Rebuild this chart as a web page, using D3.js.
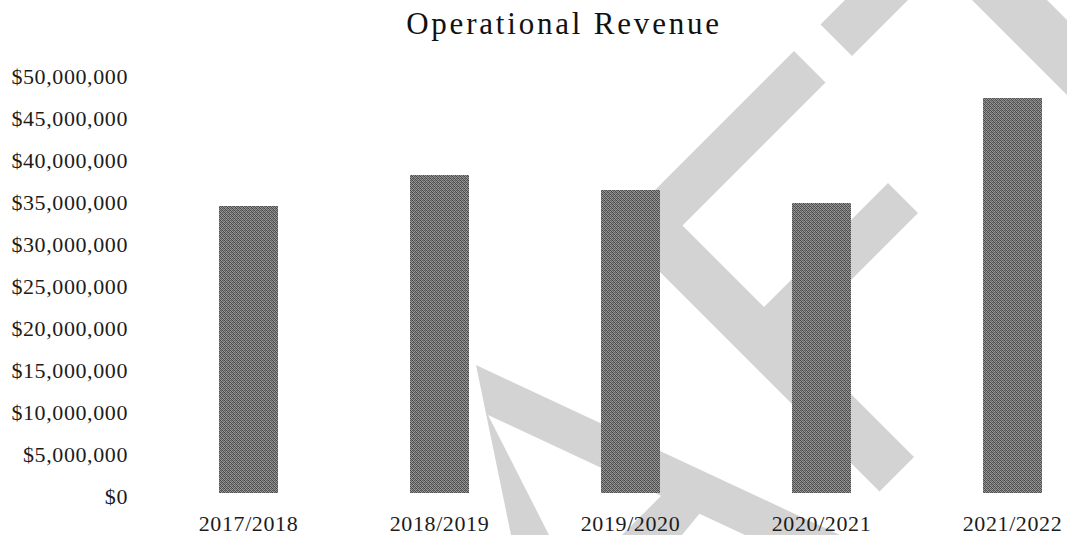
<!DOCTYPE html>
<html>
<head>
<meta charset="utf-8">
<title>Operational Revenue</title>
<script src="https://cdn.jsdelivr.net/npm/d3@7"></script>
<style>
body { margin: 0; background: #fff; }
svg { display: block; }
.axis text { font-family: "Liberation Serif", "Times New Roman", serif; font-size: 22px; letter-spacing: 0.6px; fill: #1c1c1c; }
.axis path, .axis line { display: none; }
.title { font-family: "Liberation Serif", "Times New Roman", serif; font-size: 31px; letter-spacing: 2.8px; fill: #111; }
</style>
</head>
<body>
<svg width="1067" height="535"></svg>
<script>
// chart values
var categories = ["2017/2018", "2018/2019", "2019/2020", "2020/2021", "2021/2022"];
var revenue = [34200000, 37900000, 36100000, 34500000, 47000000];
var yTicks = [0, 5000000, 10000000, 15000000, 20000000, 25000000, 30000000, 35000000, 40000000, 45000000, 50000000];

var svg = d3.select("svg");

// light grey stamp that sits behind the chart in the scan
var stamp = [
  [[794,51],[825.5,82.5],[682.5,225.5],[914,457],[879.5,491.5],[616.5,228.5]],
  [[888,183],[918,213],[759.5,371.5],[764,307]],
  [[820.5,24.5],[852,56],[908,0],[845,0]],
  [[972,0],[1067,95],[1067,20],[1047,0]],
  [[476,365],[840,535],[745,535],[488,415],[549,535],[511,535]],
  [[622,535],[682,535],[700,513],[672,485]]
];
svg.append("g").selectAll("polygon").data(stamp).enter().append("polygon")
  .attr("points", function(d){ return d.join(" "); })
  .attr("fill", "#d3d3d3");

// dithered grey fill for the bars (scanned halftone look)
var dots = [[0,0,"#444"],[2,0,"#5a5a5a"],[1,1,"#4e4e4e"],[3,1,"#666"],[0,2,"#555"],[2,2,"#484848"],[1,3,"#606060"],[3,3,"#4b4b4b"],[3,0,"#7a7a7a"],[1,2,"#727272"]];
var pat = svg.append("defs").append("pattern").attr("id", "dither")
  .attr("width", 4).attr("height", 4).attr("patternUnits", "userSpaceOnUse");
pat.append("rect").attr("width", 4).attr("height", 4).attr("fill", "#999");
pat.selectAll("rect.px").data(dots).enter().append("rect").attr("class", "px")
  .attr("x", function(d){ return d[0]; }).attr("y", function(d){ return d[1]; })
  .attr("width", 1).attr("height", 1).attr("fill", function(d){ return d[2]; });

var x = d3.scaleBand().domain(categories).range([153, 1108]).paddingInner(0.686).paddingOuter(0.343);
var y = d3.scaleLinear().domain([0, 50000000]).range([493, 73]);

svg.append("g").selectAll("rect").data(revenue).enter().append("rect")
  .attr("x", function(d, i){ return x(categories[i]); })
  .attr("y", function(d){ return y(d); })
  .attr("width", x.bandwidth())
  .attr("height", function(d){ return y(0) - y(d); })
  .attr("fill", "url(#dither)")
  .attr("shape-rendering", "crispEdges");

var fmt = d3.format(",");
svg.append("g").attr("class", "axis").attr("transform", "translate(128,3)")
  .call(d3.axisLeft(y).tickValues(yTicks).tickSize(0).tickPadding(0).tickFormat(function(d){ return "$" + fmt(d); }));

var xAxis = svg.append("g").attr("class", "axis").attr("transform", "translate(0,493)")
  .call(d3.axisBottom(x).tickSize(0).tickPadding(0));
xAxis.selectAll("text").attr("y", 38).attr("dy", 0);

svg.append("text").attr("class", "title").attr("x", 564).attr("y", 34).attr("text-anchor", "middle").text("Operational Revenue");
</script>
</body>
</html>
